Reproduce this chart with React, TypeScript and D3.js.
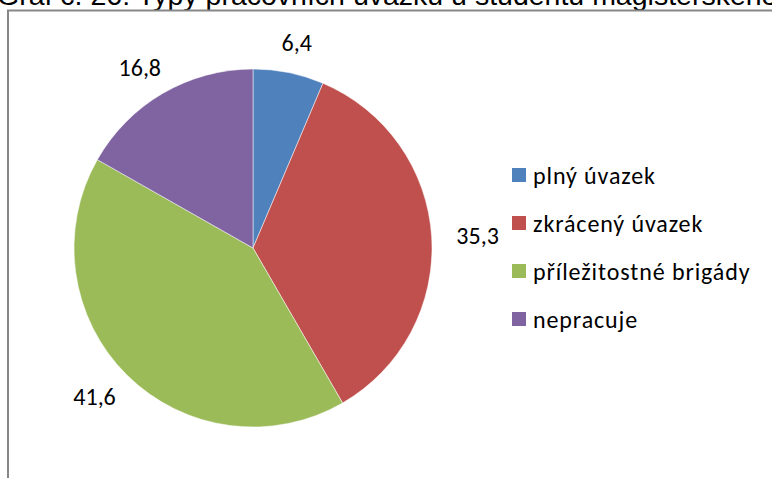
import React from "react";
import * as d3 from "d3";

const categories = ["plný úvazek", "zkrácený úvazek", "příležitostné brigády", "nepracuje"];
const values = [6.4, 35.3, 41.6, 16.8];
const valueLabels = ["6,4", "35,3", "41,6", "16,8"];
const colors = ["#4F81BD", "#C0504D", "#9BBB59", "#8064A2"];
const title = "Graf č. 26: Typy pracovních úvazků u studentů magisterského studia";

export default function App() {
  const W = 772, H = 478;
  const cx = 253, cy = 248, r = 179, lr = 201;
  const fs = 24;
  const pie = d3.pie<number>().sort(null).value((d) => d)(values);
  const arc = d3.arc<d3.PieArcDatum<number>>().innerRadius(0).outerRadius(r);
  const font = "Carlito, Calibri, Lato, 'Open Sans', sans-serif";
  return (
    <svg width={W} height={H} style={{ position: "absolute", left: 0, top: 0, background: "#fff" }}>
      <rect x={0} y={0} width={W} height={H} fill="#fff" />
      <text x={-3} y={5} fontFamily="Arial, 'Liberation Sans', sans-serif" fontSize={28.5} fill="#000">
        {title}
      </text>
      <rect x={8} y={10.5} width={W + 20} height={H + 20} fill="#fff" stroke="#878787" strokeWidth={2} />
      <g transform={`translate(${cx},${cy})`}>
        {pie.map((p, i) => (
          <path key={i} d={arc(p) || ""} fill={colors[i]} stroke="#fff" strokeWidth={0.5} />
        ))}
        {pie.map((p, i) => {
          const a = (p.startAngle + p.endAngle) / 2;
          const w = valueLabels[i].length * 0.5 * fs;
          const h = fs * 0.7;
          const x = lr * Math.sin(a) + (w / 2) * Math.sin(a);
          const y = -lr * Math.cos(a) - (h / 2) * Math.cos(a);
          return (
            <text key={i} x={x} y={y} textAnchor="middle" dominantBaseline="central" fontFamily={font} fontSize={fs} fill="#000">
              {valueLabels[i]}
            </text>
          );
        })}
      </g>
      <g transform="translate(512,175)">
        {categories.map((c, i) => (
          <g key={i} transform={`translate(0,${i * 48})`}>
            <rect x={0} y={-7} width={14} height={14} fill={colors[i]} />
            <text x={21} y={0} dominantBaseline="central" fontFamily={font} fontSize={fs} letterSpacing={0.9} fill="#000">
              {c}
            </text>
          </g>
        ))}
      </g>
    </svg>
  );
}
